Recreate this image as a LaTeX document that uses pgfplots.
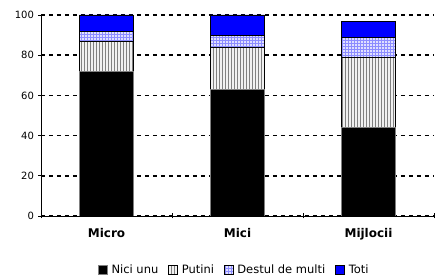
\documentclass[border=0pt]{standalone}
\usepackage{pgfplots}
\pgfplotsset{compat=1.18}
\usetikzlibrary{patterns}
\usepackage{fontspec}
\setmainfont{DejaVu Sans}
\begin{document}
\begin{tikzpicture}
\useasboundingbox (-41pt,-64pt) rectangle (399pt,216pt);
\begin{axis}[
  scale only axis, width=393pt, height=201pt,
  ybar stacked, bar width=54pt,
  xmin=-0.5, xmax=2.5, ymin=0, ymax=100,
  xtick={-0.5,0.5,1.5,2.5}, xticklabels={},
  extra x ticks={0,1,2},
  extra x tick labels={Micro,Mici,Mijlocii},
  extra x tick style={major tick length=0pt, grid=none,
    tick label style={font=\fontsize{12}{14}\selectfont\bfseries, yshift=-9pt}},
  ytick={0,20,40,60,80,100},
  tick align=outside,
  major tick length=5pt,
  tick style={black, line width=0.6pt},
  axis lines=left,
  axis line style={-, black, line width=0.7pt},
  ymajorgrids,
  grid style={black, line width=1.6pt, dash pattern=on 4pt off 4pt},
  /pgf/number format/assume math mode=true,
  yticklabel style={font=\fontsize{10}{12}\selectfont, xshift=-1pt},
  legend columns=4,
  legend style={at={(0.492,-0.269)}, anchor=center, draw=none,
    font=\fontsize{11.5}{13}\selectfont,
    /tikz/every even column/.append style={column sep=8pt}},
  legend image code/.code={\draw[#1] (0pt,-4.5pt) rectangle (9pt,4.5pt); \path (11pt,0pt);},
]
\addplot[fill=black, draw=gray] coordinates {(0,72) (1,63) (2,44)};
\addplot[fill=gray!12, draw=black, postaction={pattern=vertical lines, pattern color=gray}] coordinates {(0,15) (1,21) (2,35)};
\addplot[fill=blue!12, draw=black, postaction={pattern=grid, pattern color=blue!45}] coordinates {(0,5) (1,6) (2,10)};
\addplot[fill=blue, draw=black] coordinates {(0,8) (1,10) (2,8)};
\legend{Nici unu, Putini, Destul de multi, Toti}
\draw[gray, line width=0.7pt] (rel axis cs:1,0) -- (rel axis cs:1,1);
\end{axis}
\end{tikzpicture}
\end{document}
